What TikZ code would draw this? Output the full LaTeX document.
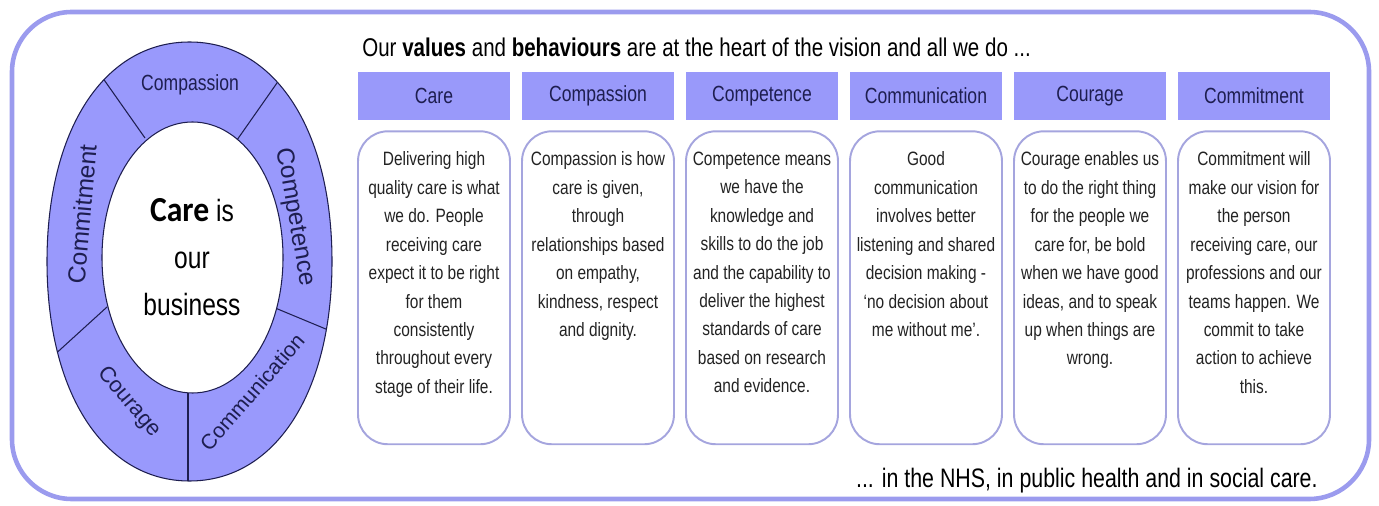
\documentclass[tikz,border=0pt]{standalone}
\usepackage{fontspec}
\setmainfont{Liberation Sans}[FakeStretch=0.8]
\newfontfamily\ringfont{Liberation Sans}
\newfontfamily\hubfont{Carlito}[FakeStretch=0.9]
\usetikzlibrary{positioning}

\definecolor{wheelblue}{RGB}{153,153,252}
\definecolor{headblue}{RGB}{153,153,250}
\definecolor{framepurple}{RGB}{155,155,238}
\definecolor{cardline}{RGB}{165,165,222}
\definecolor{navy}{RGB}{30,30,80}
\definecolor{inkgrey}{RGB}{35,35,35}

\tikzset{
  head/.style={fill=headblue, minimum width=3.04cm, minimum height=0.96cm,
    inner sep=0pt, text=navy, font=\fontsize{12.5}{14}\selectfont},
  card/.style={draw=cardline, line width=1.1pt, fill=white, rounded corners=17pt,
    minimum width=3.04cm, minimum height=6.26cm, inner sep=0pt},
  cardtext/.style={align=center, anchor=north, inner sep=0pt, text=inkgrey,
    font=\fontsize{11}{16.2}\selectfont},
  ringlabel/.style={text=navy, inner sep=0pt},
  spoke/.style={navy, line width=0.6pt},
}

\begin{document}
\begin{tikzpicture}[x=0.02cm, y=-0.02cm]
  \useasboundingbox (0,0) rectangle (1379,506);

  % outer frame
  \draw[framepurple, line width=2.6pt, rounded corners=34pt]
    (12,12) rectangle (1369,499);

  %===== the wheel =====%
  \filldraw[fill=wheelblue, draw=navy, line width=0.6pt]
    (332,261.5) .. controls (332,393.2) and (275,481) .. (189.5,481)
    .. controls (104,481) and (47,393.2) .. (47,261.5)
    .. controls (47,129.8) and (104,42) .. (189.5,42)
    .. controls (275,42) and (332,129.8) .. (332,261.5) -- cycle;
  \begin{scope}
    \clip (332,261.5) .. controls (332,393.2) and (275,481) .. (189.5,481)
      .. controls (104,481) and (47,393.2) .. (47,261.5)
      .. controls (47,129.8) and (104,42) .. (189.5,42)
      .. controls (275,42) and (332,129.8) .. (332,261.5) -- cycle;
    \draw[spoke] (145,138) -- (88,57);   % Commitment | Compassion
    \draw[spoke] (237,140) -- (291,63);  % Compassion | Competence
    \draw[spoke] (268,305) -- (345,337); % Competence | Communication
    \draw[spoke] (188,392) -- (188,500); % Communication | Courage
    \draw[spoke] (107,307) -- (40,368);  % Courage | Commitment
  \end{scope}
  % hub
  \filldraw[fill=white, draw=navy, line width=0.6pt]
    (283,257.5) .. controls (283,333.4) and (243.2,393) .. (192.5,393)
    .. controls (141.8,393) and (102,333.4) .. (102,257.5)
    .. controls (102,181.6) and (141.8,122) .. (192.5,122)
    .. controls (243.2,122) and (283,181.6) .. (283,257.5) -- cycle;

  \node[ringlabel, font=\fontsize{12.5}{14}\selectfont] (w-compassion) at (190,85) {Compassion};
  \node[ringlabel, rotate=-80, font=\ringfont\fontsize{14}{16}\selectfont] (w-competence) at (295,217) {Competence};
  \node[ringlabel, rotate=49, font=\ringfont\fontsize{12}{14}\selectfont] (w-communication) at (252,392) {Communication};
  \node[ringlabel, rotate=-50, font=\ringfont\fontsize{12.5}{14}\selectfont] (w-courage) at (129,402) {Courage};
  \node[ringlabel, rotate=85, font=\ringfont\fontsize{14}{16}\selectfont] (w-commitment) at (82,214) {Commitment};

  \node[align=center, text=black, font=\fontsize{17.5}{26.6}\selectfont] (hub-text)
    at (192,257) {{\hubfont\bfseries\fontsize{20}{26.6}\selectfont Care} is\\our\\business};

  %===== values and behaviours =====%
  \node[anchor=west, inner sep=0pt, font=\fontsize{14.6}{18}\selectfont] (title) at (362,47)
    {Our \textbf{values} and \textbf{behaviours} are at the heart of the vision and all we do ...};

  % Care
  \node[head] (care-head) at (434,96) {Care};
  \node[card, below=0.2cm of care-head] (care-card) {};
  \node[cardtext] (care-text) at ([yshift=-0.42cm]care-card.north)
    {Delivering high\\quality care is what\\we do. People\\receiving care\\expect it to be right\\for them\\consistently\\throughout every\\stage of their life.};

  % Compassion
  \node[head] (compassion-head) at (598,96) {Compassion};
  \node[card, below=0.2cm of compassion-head] (compassion-card) {};
  \node[cardtext] (compassion-text) at ([yshift=-0.42cm]compassion-card.north)
    {Compassion is how\\care is given,\\through\\relationships based\\on empathy,\\kindness, respect\\and dignity.};

  % Competence
  \node[head] (competence-head) at (762,96) {Competence};
  \node[card, below=0.2cm of competence-head] (competence-card) {};
  \node[cardtext] (competence-text) at ([yshift=-0.42cm]competence-card.north)
    {Competence means\\we have the\\knowledge and\\skills to do the job\\and the capability to\\deliver the highest\\standards of care\\based on research\\and evidence.};

  % Communication
  \node[head] (communication-head) at (926,96) {Communication};
  \node[card, below=0.2cm of communication-head] (communication-card) {};
  \node[cardtext] (communication-text) at ([yshift=-0.42cm]communication-card.north)
    {Good\\communication\\involves better\\listening and shared\\decision making -\\‘no decision about\\me without me’.};

  % Courage
  \node[head] (courage-head) at (1090,96) {Courage};
  \node[card, below=0.2cm of courage-head] (courage-card) {};
  \node[cardtext] (courage-text) at ([yshift=-0.42cm]courage-card.north)
    {Courage enables us\\to do the right thing\\for the people we\\care for, be bold\\when we have good\\ideas, and to speak\\up when things are\\wrong.};

  % Commitment
  \node[head] (commitment-head) at (1254,96) {Commitment};
  \node[card, below=0.2cm of commitment-head] (commitment-card) {};
  \node[cardtext] (commitment-text) at ([yshift=-0.42cm]commitment-card.north)
    {Commitment will\\make our vision for\\the person\\receiving care, our\\professions and our\\teams happen. We\\commit to take\\action to achieve\\this.};

  \node[anchor=east, inner sep=0pt, font=\fontsize{15.2}{18}\selectfont] (tagline) at (1318,481)
    {... in the NHS, in public health and in social care.};
\end{tikzpicture}
\end{document}
